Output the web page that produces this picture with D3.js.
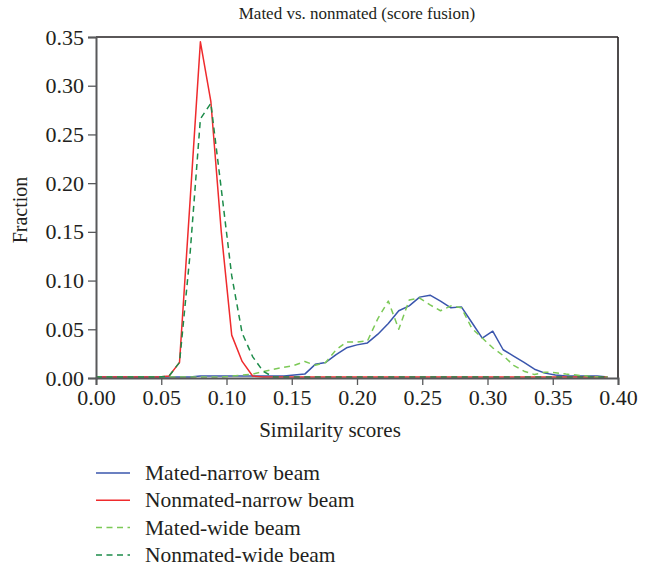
<!DOCTYPE html>
<html>
<head>
<meta charset="utf-8">
<script src="https://cdn.jsdelivr.net/npm/d3@7/dist/d3.min.js"></script>
<style>
  html, body { margin: 0; padding: 0; background: #fff; }
  svg { display: block; }
  text { font-family: "Liberation Serif", "Times New Roman", serif; fill: #231f20; }
</style>
</head>
<body>
<svg id="chart" width="650" height="569"></svg>
<script>
// Histogram bin positions (similarity score)
const scores = [
  0.000, 0.008, 0.016, 0.024, 0.032, 0.040, 0.048, 0.056, 0.064, 0.072,
  0.080, 0.088, 0.096, 0.104, 0.112, 0.120, 0.128, 0.136, 0.144, 0.152,
  0.160, 0.168, 0.176, 0.184, 0.192, 0.200, 0.208, 0.216, 0.224, 0.232,
  0.240, 0.248, 0.256, 0.264, 0.272, 0.280, 0.288, 0.296, 0.304, 0.312,
  0.320, 0.328, 0.336, 0.344, 0.352, 0.360, 0.368, 0.376, 0.384, 0.392
];

// Fraction of comparisons per bin
const matedNarrow = [
  0.001, 0.001, 0.001, 0.001, 0.001, 0.001, 0.001, 0.001, 0.001, 0.001,
  0.002, 0.002, 0.002, 0.002, 0.002, 0.002, 0.002, 0.002, 0.002, 0.003,
  0.004, 0.014, 0.016, 0.024, 0.031, 0.034, 0.036, 0.045, 0.056, 0.069,
  0.074, 0.083, 0.085, 0.079, 0.072, 0.073, 0.057, 0.041, 0.048, 0.029,
  0.0225, 0.016, 0.009, 0.005, 0.003, 0.002, 0.002, 0.002, 0.002, 0.001
];
const nonmatedNarrow = [
  0.001, 0.001, 0.001, 0.001, 0.001, 0.001, 0.001, 0.002, 0.016, 0.180,
  0.345, 0.284, 0.150, 0.044, 0.017, 0.002, 0.001, 0.001, 0.001, 0.001,
  0.001, 0.001, 0.001, 0.001, 0.001, 0.001, 0.001, 0.001, 0.001, 0.001,
  0.001, 0.001, 0.001, 0.001, 0.001, 0.001, 0.001, 0.001, 0.001, 0.001,
  0.001, 0.001, 0.001, 0.001, 0.001, 0.001, 0.001, 0.001, 0.001, 0.001
];
const matedWide = [
  0.001, 0.001, 0.001, 0.001, 0.001, 0.001, 0.001, 0.001, 0.001, 0.001,
  0.001, 0.001, 0.001, 0.002, 0.003, 0.004, 0.0065, 0.009, 0.011, 0.013,
  0.017, 0.013, 0.016, 0.029, 0.037, 0.037, 0.038, 0.061, 0.079, 0.050,
  0.080, 0.082, 0.075, 0.069, 0.074, 0.072, 0.051, 0.041, 0.031, 0.023,
  0.013, 0.007, 0.0035, 0.006, 0.0055, 0.004, 0.003, 0.002, 0.001, 0.001
];
const nonmatedWide = [
  0.001, 0.001, 0.001, 0.001, 0.001, 0.001, 0.001, 0.002, 0.016, 0.126,
  0.266, 0.282, 0.194, 0.105, 0.046, 0.022, 0.007, 0.001, 0.001, 0.001,
  0.001, 0.001, 0.001, 0.001, 0.001, 0.001, 0.001, 0.001, 0.001, 0.001,
  0.001, 0.001, 0.001, 0.001, 0.001, 0.001, 0.001, 0.001, 0.001, 0.001,
  0.001, 0.001, 0.001, 0.001, 0.001, 0.001, 0.001, 0.001, 0.001, 0.001
];

const seriesNames = ["Mated-narrow beam", "Nonmated-narrow beam", "Mated-wide beam", "Nonmated-wide beam"];
const seriesValues = [matedNarrow, nonmatedNarrow, matedWide, nonmatedWide];
const seriesColors = ["#3a56ad", "#ef2b2d", "#7cc957", "#1d8c4a"];
const seriesDash = [null, null, "6,4.5", "6,4.5"];

const xTicks = [0.00, 0.05, 0.10, 0.15, 0.20, 0.25, 0.30, 0.35, 0.40];
const yTicks = [0.00, 0.05, 0.10, 0.15, 0.20, 0.25, 0.30, 0.35];

const titleText = "Mated vs. nonmated (score fusion)";
const xLabel = "Similarity scores";
const yLabel = "Fraction";

// Layout
const plot = { left: 96, right: 618, top: 37, bottom: 378 };

const svg = d3.select("#chart");

const x = d3.scaleLinear().domain([0, 0.4]).range([plot.left, plot.right]);
const y = d3.scaleLinear().domain([0, 0.35]).range([plot.bottom, plot.top]);

// Frame: top and right edges
svg.append("line")
  .attr("x1", plot.left).attr("x2", plot.right)
  .attr("y1", plot.top).attr("y2", plot.top)
  .attr("stroke", "#231f20").attr("stroke-width", 1.6);
svg.append("line")
  .attr("x1", plot.right).attr("x2", plot.right)
  .attr("y1", plot.top).attr("y2", plot.bottom)
  .attr("stroke", "#231f20").attr("stroke-width", 1.6);

// Series lines
const line = d3.line()
  .x((d, i) => x(scores[i]))
  .y(d => y(d));

const lines = svg.append("g").attr("class", "series");
seriesValues.forEach((vals, i) => {
  lines.append("path")
    .datum(vals)
    .attr("d", line)
    .attr("fill", "none")
    .attr("stroke", seriesColors[i])
    .attr("stroke-width", 1.5)
    .attr("stroke-dasharray", seriesDash[i])
    .attr("stroke-linejoin", "round");
});

// Axes
const xAxis = svg.append("g")
  .attr("transform", `translate(0,${plot.bottom})`)
  .call(d3.axisBottom(x).tickValues(xTicks).tickFormat(d3.format(".2f")).tickSizeOuter(0).tickSize(7).tickPadding(4));
const yAxis = svg.append("g")
  .attr("transform", `translate(${plot.left},0)`)
  .call(d3.axisLeft(y).tickValues(yTicks).tickFormat(d3.format(".2f")).tickSizeOuter(0).tickSize(8).tickPadding(4));

[xAxis, yAxis].forEach(g => {
  g.select(".domain").attr("stroke", "#58595b").attr("stroke-width", 2);
  g.selectAll(".tick line").attr("stroke", "#58595b").attr("stroke-width", 1.3);
  g.selectAll(".tick text")
    .attr("fill", "#231f20")
    .style("font-family", '"Liberation Serif", serif')
    .style("font-size", "22px");
});

// Title and axis labels
svg.append("text")
  .attr("x", 357).attr("y", 19)
  .attr("text-anchor", "middle")
  .style("font-size", "17px")
  .text(titleText);

svg.append("text")
  .attr("x", 330).attr("y", 437)
  .attr("text-anchor", "middle")
  .style("font-size", "21px")
  .text(xLabel);

svg.append("text")
  .attr("transform", "translate(27,210) rotate(-90)")
  .attr("text-anchor", "middle")
  .style("font-size", "20px")
  .text(yLabel);

// Legend
const legend = svg.append("g").attr("class", "legend");
const legendRow = legend.selectAll("g")
  .data(seriesNames)
  .join("g")
  .attr("transform", (d, i) => `translate(96,${473 + i * 27.3})`);
legendRow.append("line")
  .attr("x1", 0).attr("x2", 34)
  .attr("y1", 0).attr("y2", 0)
  .attr("stroke", (d, i) => seriesColors[i])
  .attr("stroke-width", 1.5)
  .attr("stroke-dasharray", (d, i) => seriesDash[i]);
legendRow.append("text")
  .attr("x", 49).attr("y", 7)
  .style("font-size", "21.5px")
  .text(d => d);
</script>
</body>
</html>
